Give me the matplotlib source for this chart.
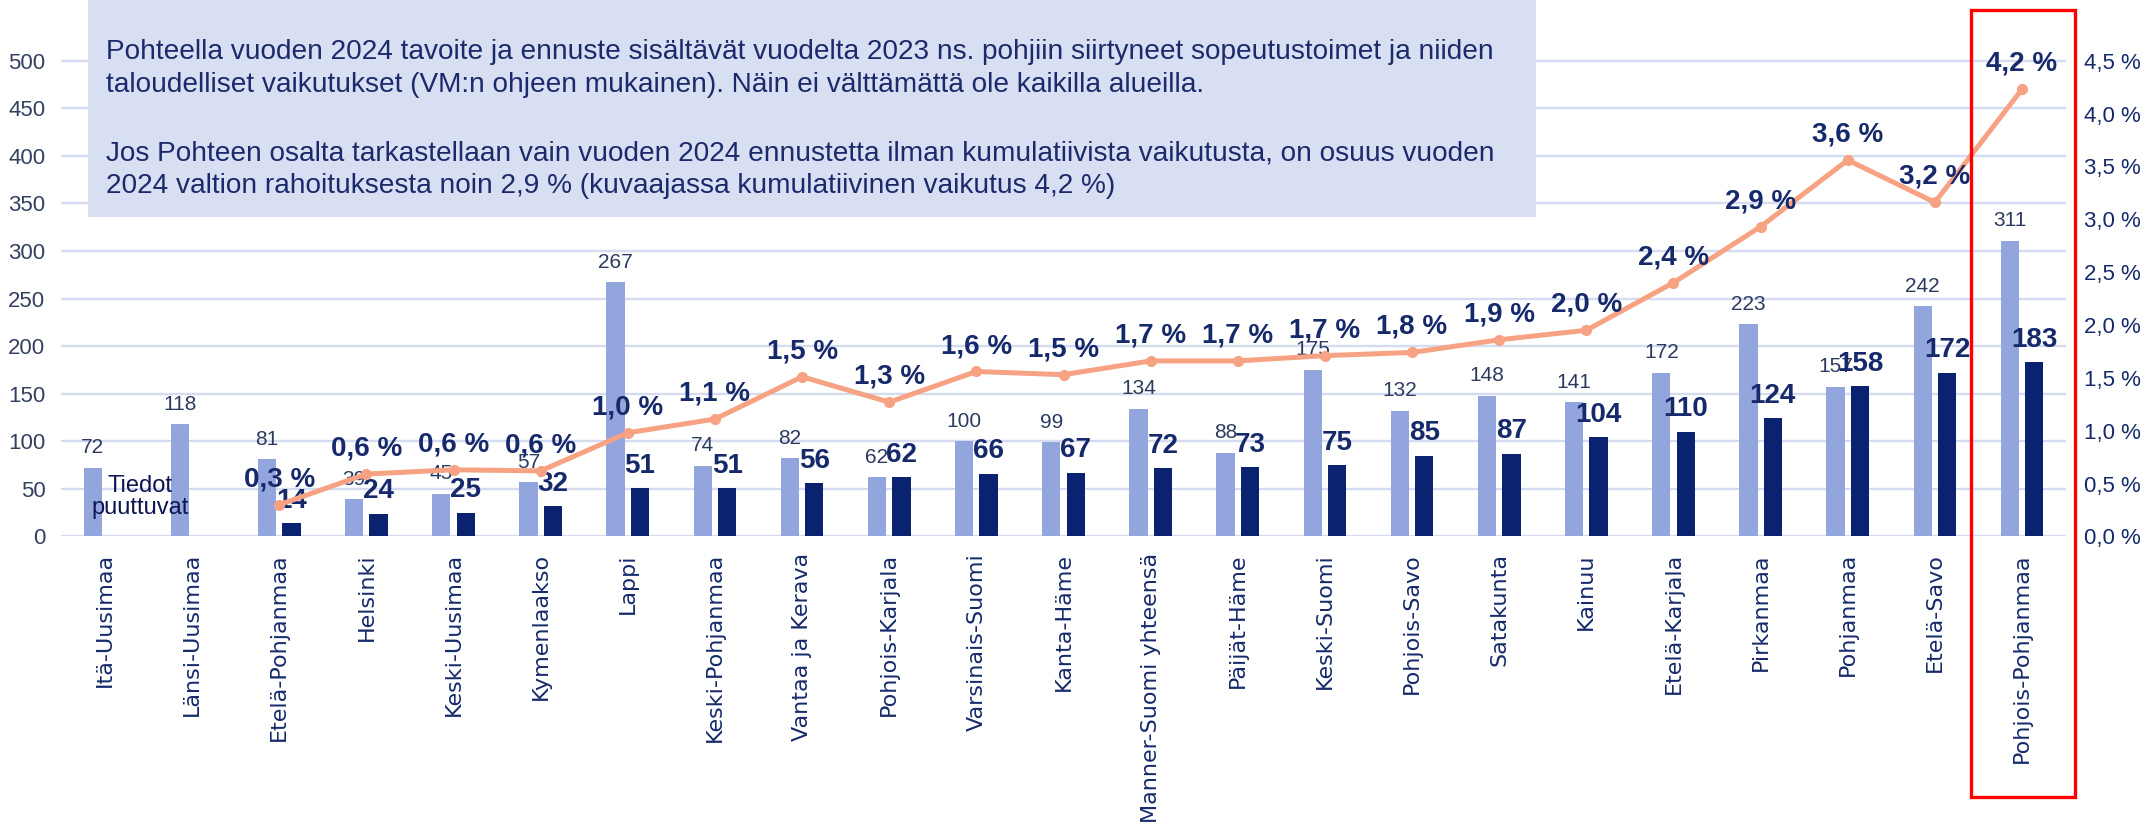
import numpy as np
import matplotlib
matplotlib.use("Agg")
import matplotlib.pyplot as plt
from matplotlib.patches import Rectangle
from matplotlib.ticker import FuncFormatter
from matplotlib import font_manager

# data
regions = ["Itä-Uusimaa", "Länsi-Uusimaa", "Etelä-Pohjanmaa", "Helsinki", "Keski-Uusimaa",
           "Kymenlaakso", "Lappi", "Keski-Pohjanmaa", "Vantaa ja Kerava", "Pohjois-Karjala",
           "Varsinais-Suomi", "Kanta-Häme", "Manner-Suomi yhteensä", "Päijät-Häme", "Keski-Suomi",
           "Pohjois-Savo", "Satakunta", "Kainuu", "Etelä-Karjala", "Pirkanmaa", "Pohjanmaa",
           "Etelä-Savo", "Pohjois-Pohjanmaa"]
target_eur = [72, 118, 81, 39, 45, 57, 267, 74, 82, 62, 100, 99, 134, 88, 175, 132, 148,
              141, 172, 223, 157, 242, 311]
forecast_eur = [np.nan, np.nan, 14, 24, 25, 32, 51, 51, 56, 62, 66, 67, 72, 73, 75, 85, 87,
                104, 110, 124, 158, 172, 183]
share_pct = [np.nan, np.nan, 0.30, 0.59, 0.63, 0.62, 0.98, 1.11, 1.51, 1.27, 1.56, 1.53,
             1.66, 1.66, 1.71, 1.74, 1.86, 1.95, 2.40, 2.93, 3.56, 3.16, 4.23]
share_labels = ["", "", "0,3 %", "0,6 %", "0,6 %", "0,6 %", "1,0 %", "1,1 %", "1,5 %", "1,3 %",
                "1,6 %", "1,5 %", "1,7 %", "1,7 %", "1,7 %", "1,8 %", "1,9 %", "2,0 %", "2,4 %",
                "2,9 %", "3,6 %", "3,2 %", "4,2 %"]
note_lines = [
    "Pohteella vuoden 2024 tavoite ja ennuste sisältävät vuodelta 2023 ns. pohjiin siirtyneet sopeutustoimet ja niiden",
    "taloudelliset vaikutukset (VM:n ohjeen mukainen). Näin ei välttämättä ole kaikilla alueilla.",
    "Jos Pohteen osalta tarkastellaan vain vuoden 2024 ennustetta ilman kumulatiivista vaikutusta, on osuus vuoden",
    "2024 valtion rahoituksesta noin 2,9 % (kuvaajassa kumulatiivinen vaikutus 4,2 %)",
]

names = {f.name for f in font_manager.fontManager.ttflist}
narrow = "Liberation Sans Narrow" if "Liberation Sans Narrow" in names else "Liberation Sans"
plt.rcParams['font.family'] = ["Liberation Sans", "DejaVu Sans"]

LIGHT = "#93a5dd"
DARK = "#0b2270"
LINE = "#f6a283"
NAVY = "#162a6b"
GRID = "#d5dbf1"

W, H = 2156, 833
fig = plt.figure(figsize=(W / 100, H / 100), dpi=100)
fig.patch.set_facecolor("white")

y0_px, per_unit = 536.4, 0.9514
ymax = 545
ax_h = ymax * per_unit
ax = fig.add_axes([61.4 / W, (H - y0_px) / H, (2065.6 - 61.4) / W, ax_h / H])

x = np.arange(len(regions))
bw = 0.21
off = 0.14
ax.bar(x - off, target_eur, bw, color=LIGHT, zorder=2)
ax.bar(x + off, forecast_eur, bw, color=DARK, zorder=2)

for xi, v in zip(x, target_eur):
    ax.annotate(f"{v}", xy=(xi - off, v), xytext=(0, 10.5), textcoords="offset points",
                ha="center", va="baseline", fontsize=15, color="#2c3a60", family=narrow, zorder=5)
for xi, v in zip(x, forecast_eur):
    if np.isnan(v):
        continue
    ax.annotate(f"{v:.0f}", xy=(xi + off, v), xytext=(0, 11), textcoords="offset points",
                ha="center", va="baseline", fontsize=20, fontweight="bold", color=NAVY,
                family=narrow, zorder=5)

ax.set_xlim(-0.5, len(regions) - 0.5)
ax.set_ylim(0, ymax)
ax.set_yticks(np.arange(0, 501, 50))
ax.grid(axis="y", color=GRID, linewidth=1.7, zorder=0)
ax.set_axisbelow(True)
for s in ax.spines.values():
    s.set_visible(False)
ax.tick_params(axis="both", length=0)
ax.tick_params(axis="y", pad=11.5, labelsize=16, labelcolor="#33405f")
ax.set_xticks(x)
ax.set_xticklabels(regions, rotation=90, fontsize=16, color=NAVY, family="DejaVu Sans")
ax.tick_params(axis="x", pad=12)
for lab in ax.get_yticklabels():
    lab.set_family(narrow)

ax2 = ax.twinx()
ax2.set_ylim(0, ymax * 4.5 / 500)
ax2.set_yticks(np.arange(0, 4.51, 0.5))
ax2.yaxis.set_major_formatter(FuncFormatter(lambda v, p: f"{v:.1f} %".replace(".", ",")))
ax2.tick_params(axis="y", length=0, pad=13, labelsize=16, labelcolor=NAVY)
for lab in ax2.get_yticklabels():
    lab.set_family(narrow)
for s in ax2.spines.values():
    s.set_visible(False)
ax2.plot(x, share_pct, color=LINE, linewidth=3.6, marker="o", markersize=7, zorder=3)
for xi, v, lab in zip(x, share_pct, share_labels):
    if np.isnan(v):
        continue
    ax2.annotate(lab, xy=(xi, v), xytext=(0, 13.3), textcoords="offset points",
                 ha="center", va="baseline", fontsize=20, fontweight="bold", color=NAVY,
                 family=narrow)

# missing data note, placed between the first two groups
ax.text((140 - 61.4) / 87.14 - 0.5, (y0_px - 497) / per_unit, "Tiedot\npuuttuvat",
        ha="center", va="center", fontsize=17, color="#0c1550", linespacing=1.05, zorder=6)

# note box
fig.add_artist(Rectangle((88 / W, 1 - 217 / H), (1536 - 88) / W, 217 / H,
                         transform=fig.transFigure, facecolor="#d9dff2", edgecolor="none", zorder=1))
for line, yc in zip(note_lines, [52, 85, 154, 186]):
    fig.text(106 / W, 1 - yc / H, line, ha="left", va="center", fontsize=20.2, color="#1c2a6b",
             family=narrow, zorder=2)

# highlight box
fig.add_artist(Rectangle((1971 / W, 1 - 797 / H), (2075 - 1971) / W, (797 - 10) / H,
                         transform=fig.transFigure, fill=False, edgecolor="#ff0000",
                         linewidth=2.4, zorder=3))

fig.savefig("out.png", dpi=100, facecolor="white")
